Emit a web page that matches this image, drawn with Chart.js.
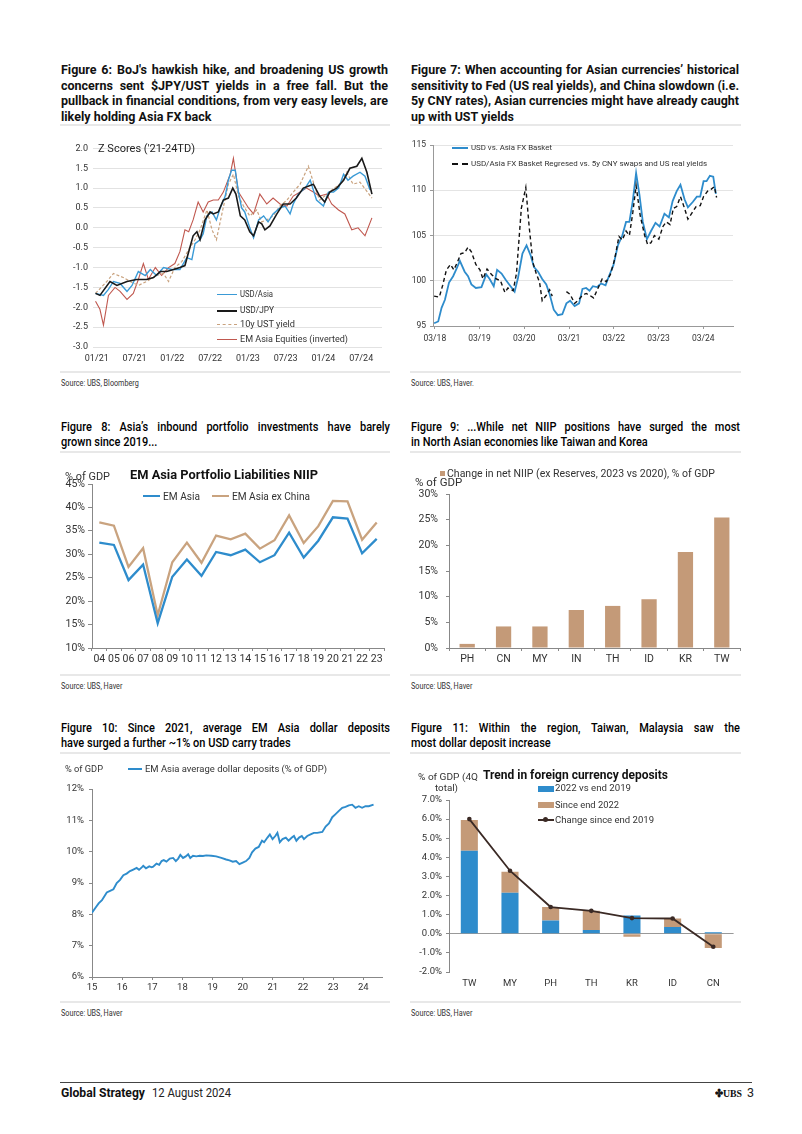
<!DOCTYPE html>
<html><head><meta charset="utf-8">
<script src="https://cdn.jsdelivr.net/npm/chart.js@4.4.1/dist/chart.umd.min.js"></script>
<style>
html,body{margin:0;padding:0;background:#fff;}
body{width:802px;height:1134px;position:relative;overflow:hidden;font-family:Roboto,'Open Sans',sans-serif;color:#222;}
.a{position:absolute;white-space:nowrap;}
.ttl{position:absolute;font-weight:700;font-size:12.5px;color:#111;}
.ttl .ln{height:15.5px;line-height:15.5px;white-space:nowrap;}
.ttl.c{font-weight:500;font-size:12.5px;color:#000;}
.ttl.c .ln{height:15px;line-height:15px;}
.rule{position:absolute;height:2px;background:#e8e8e8;}
.src{position:absolute;font-size:8.5px;line-height:10px;color:#333;white-space:nowrap;}
canvas{position:absolute;}
.sw{position:absolute;}
</style></head><body>

<!-- Titles -->
<div class="ttl" style="left:61px;top:62px;width:327px;" data-s="1">
<div class="ln j">Figure 6: BoJ's hawkish hike, and broadening US growth</div>
<div class="ln j">concerns sent $JPY/UST yields in a free fall. But the</div>
<div class="ln j">pullback in financial conditions, from very easy levels, are</div>
<div class="ln">likely holding Asia FX back</div>
</div>
<div class="ttl" style="left:411px;top:62px;width:328px;" data-s="1">
<div class="ln j">Figure 7: When accounting for Asian currencies’ historical</div>
<div class="ln j">sensitivity to Fed (US real yields), and China slowdown (i.e.</div>
<div class="ln j">5y CNY rates), Asian currencies might have already caught</div>
<div class="ln">up with UST yields</div>
</div>
<div class="rule" style="left:60px;top:124px;width:330px;"></div>
<div class="rule" style="left:410px;top:124px;width:331px;"></div>

<div class="ttl c" style="left:61px;top:419px;width:329px;" data-s="0.88">
<div class="ln j">Figure 8: Asia’s inbound portfolio investments have barely</div>
<div class="ln">grown since 2019...</div>
</div>
<div class="ttl c" style="left:411px;top:419px;width:329px;" data-s="0.88">
<div class="ln j">Figure 9: ...While net NIIP positions have surged the most</div>
<div class="ln">in North Asian economies like Taiwan and Korea</div>
</div>
<div class="rule" style="left:60px;top:451px;width:330px;"></div>
<div class="rule" style="left:410px;top:451px;width:331px;"></div>

<div class="ttl c" style="left:61px;top:720px;width:329px;" data-s="0.88">
<div class="ln j">Figure 10: Since 2021, average EM Asia dollar deposits</div>
<div class="ln">have surged a further ~1% on USD carry trades</div>
</div>
<div class="ttl c" style="left:411px;top:720px;width:329px;" data-s="0.88">
<div class="ln j">Figure 11: Within the region, Taiwan, Malaysia saw the</div>
<div class="ln">most dollar deposit increase</div>
</div>
<div class="rule" style="left:60px;top:752px;width:330px;"></div>
<div class="rule" style="left:410px;top:752px;width:331px;"></div>

<!-- source rules and texts -->
<div class="rule" style="left:60px;top:371px;width:330px;"></div>
<div class="rule" style="left:410px;top:371px;width:331px;"></div>
<div class="src" style="left:61px;top:378px;" data-sx="0.85">Source: UBS, Bloomberg</div>
<div class="src" style="left:411px;top:378px;" data-sx="0.85">Source: UBS, Haver.</div>
<div class="rule" style="left:60px;top:674px;width:330px;"></div>
<div class="rule" style="left:410px;top:674px;width:331px;"></div>
<div class="src" style="left:61px;top:681px;" data-sx="0.85">Source: UBS, Haver</div>
<div class="src" style="left:411px;top:681px;" data-sx="0.85">Source: UBS, Haver</div>
<div class="rule" style="left:60px;top:1001px;width:330px;"></div>
<div class="rule" style="left:410px;top:1001px;width:331px;"></div>
<div class="src" style="left:61px;top:1008px;" data-sx="0.85">Source: UBS, Haver</div>
<div class="src" style="left:411px;top:1008px;" data-sx="0.85">Source: UBS, Haver</div>

<!-- footer -->
<div style="position:absolute;left:60px;top:1082px;width:692px;height:1px;background:#444;"></div>
<div class="a" style="left:61px;top:1086px;font-size:12.5px;line-height:14px;font-weight:700;color:#111;" data-w="84">Global Strategy</div>
<div class="a" style="left:152px;top:1086px;font-size:12.5px;line-height:14px;color:#222;" data-w="79">12 August 2024</div>
<div class="a" style="left:715px;top:1086px;font-size:11px;line-height:14px;color:#111;font-family:'Liberation Serif',serif;font-weight:700;" data-w="27">✤UBS</div>
<div class="a" style="left:747px;top:1086px;font-size:12.5px;line-height:14px;color:#222;">3</div>

<!-- Chart 6 overlays -->
<div class="a" style="left:98px;top:141.5px;font-size:11px;line-height:13px;color:#222;" data-w="97">Z Scores ('21-24TD)</div>
<div class="sw" style="left:217px;top:293.5px;width:20px;border-top:1.5px solid #3a9ad6;"></div>
<div class="a" style="left:240px;top:288.5px;font-size:9px;line-height:11px;color:#333;" data-w="33">USD/Asia</div>
<div class="sw" style="left:217px;top:309.5px;width:20px;border-top:2px solid #1a1a1a;"></div>
<div class="a" style="left:240px;top:304.5px;font-size:9px;line-height:11px;color:#333;" data-w="34">USD/JPY</div>
<div class="sw" style="left:217px;top:324px;width:20px;border-top:1.2px dashed #c9a27e;"></div>
<div class="a" style="left:240px;top:319px;font-size:9px;line-height:11px;color:#333;" data-w="55">10y UST yield</div>
<div class="sw" style="left:217px;top:339px;width:20px;border-top:1px solid #c0584f;"></div>
<div class="a" style="left:240px;top:334px;font-size:9px;line-height:11px;color:#333;" data-w="108">EM Asia Equities (inverted)</div>

<!-- Chart 7 overlays -->
<div class="sw" style="left:452px;top:147px;width:16px;border-top:2px solid #2e8ccc;"></div>
<div class="a" style="left:471px;top:143px;font-size:8px;line-height:10px;color:#333;" data-w="81">USD vs. Asia FX Basket</div>
<div class="sw" style="left:452px;top:163px;width:16px;border-top:2px dashed #111;"></div>
<div class="a" style="left:471px;top:159px;font-size:8px;line-height:10px;color:#333;" data-w="236">USD/Asia FX Basket Regresed vs. 5y CNY swaps and US real yields</div>

<!-- Chart 8 overlays -->
<div class="a" style="left:65px;top:469.5px;font-size:10.5px;line-height:13px;color:#333;" data-w="45">% of GDP</div>
<div class="a" style="left:130px;top:466.5px;font-size:12.5px;line-height:15px;font-weight:700;color:#111;" data-w="188">EM Asia Portfolio Liabilities NIIP</div>
<div class="sw" style="left:143px;top:495px;width:17px;border-top:2.5px solid #2e8ccc;"></div>
<div class="a" style="left:163px;top:489.5px;font-size:10.5px;line-height:13px;color:#333;" data-w="37">EM Asia</div>
<div class="sw" style="left:212px;top:495px;width:17px;border-top:2.5px solid #c9a37f;"></div>
<div class="a" style="left:232px;top:489.5px;font-size:10.5px;line-height:13px;color:#333;" data-w="78">EM Asia ex China</div>

<!-- Chart 9 overlays -->
<div class="sw" style="left:440px;top:471px;width:5px;height:5px;background:#c49a78;"></div>
<div class="a" style="left:447px;top:466.5px;font-size:10.5px;line-height:13px;color:#333;" data-w="268">Change in net NIIP (ex Reserves, 2023 vs 2020), % of GDP</div>
<div class="a" style="left:415px;top:477px;font-size:10px;line-height:12px;color:#333;" data-w="50">% of GDP</div>

<!-- Chart 10 overlays -->
<div class="a" style="left:65px;top:763px;font-size:9.5px;line-height:12px;color:#333;" data-w="38">% of GDP</div>
<div class="sw" style="left:128px;top:768px;width:14px;border-top:2px solid #2e8ccc;"></div>
<div class="a" style="left:145px;top:763px;font-size:9.5px;line-height:12px;color:#333;" data-w="182">EM Asia average dollar deposits (% of GDP)</div>

<!-- Chart 11 overlays -->
<div class="a" style="left:418px;top:771px;font-size:9.5px;line-height:12px;color:#333;" data-w="60">% of GDP (4Q</div>
<div class="a" style="left:435px;top:782px;font-size:9.5px;line-height:12px;color:#333;" data-w="23">total)</div>
<div class="a" style="left:483px;top:766.5px;font-size:12.5px;line-height:15px;font-weight:700;color:#111;" data-w="185">Trend in foreign currency deposits</div>
<div class="sw" style="left:538px;top:785.5px;width:16px;height:6px;background:#2e8ccc;"></div>
<div class="a" style="left:555px;top:782px;font-size:9.5px;line-height:12px;color:#333;" data-w="76">2022 vs end 2019</div>
<div class="sw" style="left:538px;top:801.5px;width:16px;height:6px;background:#c49a78;"></div>
<div class="a" style="left:555px;top:798.5px;font-size:9.5px;line-height:12px;color:#333;" data-w="64">Since end 2022</div>
<div class="sw" style="left:538px;top:818.5px;width:16px;border-top:2px solid #3b2a25;"></div>
<div class="sw" style="left:543px;top:817px;width:5px;height:5px;border-radius:50%;background:#3b2a25;"></div>
<div class="a" style="left:555px;top:813.5px;font-size:9.5px;line-height:12px;color:#333;" data-w="99">Change since end 2019</div>

<script>
// ---------- DATA ----------
// Figure 6: [months since Jan-2021, z-score]
const ticks6 = ['01/21','07/21','01/22','07/22','01/23','07/23','01/24','07/24'];
const usdAsia6 = [[-0.2,-1.65],[1.06,-1.7],[1.85,-1.55],[2.65,-1.35],[3.7,-1.4],[4.8,-1.6],[5.6,-1.45],[6.6,-1.1],[7.7,-1.2],[8.5,-1.05],[9.5,-1.2],[10.6,-1.0],[11.9,-1.05],[13.2,-1.05],[14.3,-0.75],[15.1,-0.8],[15.6,-0.4],[16.4,-0.3],[16.9,-0.15],[17.5,0.3],[18.3,0.4],[19.0,0.2],[19.6,0.5],[20.4,0.8],[20.9,1.2],[21.4,1.45],[22.0,1.45],[22.5,0.9],[23.0,0.5],[23.5,0.4],[24.3,0.0],[24.9,-0.25],[25.7,0.2],[26.5,0.3],[27.2,0.15],[28.0,0.35],[29.1,0.5],[29.9,0.55],[30.7,0.35],[31.2,0.6],[32.0,0.85],[33.1,1.0],[33.9,1.2],[34.4,0.95],[34.9,0.7],[36.0,0.55],[36.8,0.9],[37.6,0.9],[38.4,1.0],[39.2,1.35],[39.9,1.2],[40.7,1.3],[41.8,1.4],[42.6,1.3],[43.4,0.95]];
const usdJpy6 = [[-0.2,-1.65],[0.5,-1.7],[2.1,-1.35],[3.2,-1.45],[4.8,-1.35],[6.3,-1.3],[7.9,-1.3],[9.0,-1.25],[10.1,-1.1],[11.1,-1.1],[12.2,-1.05],[13.2,-1.0],[14.0,-0.95],[14.6,-0.6],[15.3,-0.2],[15.9,-0.1],[16.4,-0.3],[17.2,0.2],[18.0,0.4],[18.5,0.35],[19.3,0.4],[20.1,0.7],[20.9,0.75],[21.6,1.0],[22.1,0.85],[22.8,0.3],[23.5,0.2],[24.3,-0.1],[24.9,-0.2],[25.7,0.15],[26.2,0.1],[26.7,-0.05],[27.5,0.05],[28.6,0.35],[29.6,0.6],[30.7,0.6],[31.7,0.75],[32.8,1.0],[34.4,1.1],[35.4,0.8],[36.2,0.65],[37.0,0.9],[38.1,1.0],[39.2,1.2],[40.2,1.5],[41.3,1.55],[42.1,1.75],[42.9,1.4],[43.7,0.85]];
const ust10y6 = [[-0.2,-1.65],[1.6,-1.35],[2.65,-1.15],[4.2,-1.25],[5.3,-1.35],[6.6,-1.45],[7.9,-1.35],[9.5,-1.2],[10.6,-1.15],[11.4,-1.35],[12.4,-1.0],[13.5,-0.85],[14.6,-0.55],[15.6,-0.3],[16.4,-0.05],[17.5,0.45],[18.3,-0.05],[19.0,-0.3],[19.8,0.3],[20.9,1.1],[21.7,1.35],[22.5,0.8],[23.3,0.55],[24.3,0.3],[25.4,0.45],[26.2,0.15],[27.0,0.2],[28.0,0.3],[29.1,0.55],[30.2,0.7],[31.2,0.9],[32.3,1.1],[33.6,1.55],[34.7,1.0],[35.4,0.7],[36.2,0.8],[37.3,0.95],[38.6,1.1],[39.7,1.4],[40.7,1.1],[41.8,1.15],[43.7,0.75]];
const emEquities6 = [[-0.2,-1.85],[0.5,-2.05],[1.06,-2.45],[1.85,-1.7],[2.9,-1.5],[3.7,-1.6],[4.8,-1.8],[5.8,-1.65],[6.6,-1.3],[7.4,-0.9],[8.2,-1.3],[9.3,-1.0],[10.3,-1.2],[11.4,-1.0],[12.4,-0.9],[13.2,-0.6],[14.0,-0.05],[14.6,-0.1],[15.3,0.2],[16.1,0.65],[16.9,0.4],[17.7,0.65],[18.5,0.7],[19.3,0.7],[20.1,0.9],[21.2,1.35],[21.7,1.75],[22.5,0.9],[23.3,0.7],[24.1,0.5],[24.9,0.35],[25.9,0.85],[27.0,0.6],[28.0,0.75],[29.1,0.6],[30.2,0.55],[31.2,0.8],[32.3,0.9],[33.3,1.0],[34.4,0.9],[35.4,0.8],[36.5,0.85],[37.3,0.6],[38.4,0.45],[39.4,0.35],[40.5,-0.05],[41.5,0.0],[42.6,-0.2],[43.7,0.25]];

// Figure 7: [months since Mar-2018, index]
const ticks7 = ['03/18','03/19','03/20','03/21','03/22','03/23','03/24'];
const usdAsiaBasket7 = [[-0.2,95.3],[0.9,95.5],[1.8,97.0],[2.7,97.9],[3.8,99.8],[4.9,100.5],[5.8,101.3],[6.7,102.2],[8.0,101.0],[8.9,100.5],[9.8,99.6],[11.0,99.2],[12.5,99.3],[13.8,100.7],[14.7,100.2],[15.8,99.4],[16.7,101.2],[17.9,100.8],[19.0,100.1],[20.1,99.5],[21.4,98.8],[22.3,100.3],[23.5,103.0],[24.6,103.9],[25.7,102.8],[26.6,101.5],[27.7,101.0],[28.8,100.2],[29.9,99.6],[30.8,98.5],[31.9,96.8],[33.0,96.2],[34.2,96.3],[35.3,97.5],[36.3,97.8],[37.5,97.2],[38.7,97.5],[39.6,99.1],[40.6,99.2],[41.5,98.9],[42.4,99.4],[43.5,99.3],[44.6,99.7],[45.8,99.5],[46.7,100.5],[47.9,101.7],[49.1,103.9],[50.3,105.0],[51.3,106.5],[52.2,106.5],[53.1,108.8],[54.0,111.9],[54.9,109.5],[55.8,106.5],[56.9,104.6],[58.0,105.5],[59.2,106.4],[60.3,106.0],[61.6,107.4],[62.8,107.0],[63.8,108.8],[64.9,109.9],[65.9,110.6],[67.0,109.0],[67.9,108.1],[69.2,108.7],[70.3,109.3],[71.2,109.3],[72.1,111.0],[72.9,111.0],[73.8,111.6],[74.7,111.5],[75.4,109.6]];
const regressed7 = [[-0.2,98.3],[1.2,98.2],[2.1,99.5],[3.1,101.2],[4.2,101.8],[5.1,101.2],[6.0,102.0],[7.0,103.0],[8.0,103.1],[8.9,103.7],[9.8,103.2],[11.0,101.8],[12.1,101.2],[12.9,100.2],[14.0,101.3],[15.2,100.7],[16.5,100.2],[17.6,100.0],[18.8,98.7],[19.6,99.2],[21.0,98.9],[21.9,100.8],[23.2,108.0],[24.4,110.3],[25.3,106.0],[26.3,102.0],[27.2,100.8],[28.1,99.8],[28.8,97.8],[29.9,98.4],[30.8,99.0],[31.5,98.3],[33.0,null],[35.3,98.8],[36.3,98.5],[37.5,97.5],[38.4,97.8],[39.6,98.4],[40.6,98.6],[41.5,98.4],[42.6,98.1],[43.8,99.2],[44.9,100.2],[46.0,99.9],[47.1,100.7],[48.2,102.3],[49.4,104.9],[50.3,104.5],[51.3,105.5],[52.2,105.0],[53.1,107.5],[54.0,110.5],[55.1,107.2],[56.3,105.0],[57.1,104.0],[58.0,104.2],[58.9,105.0],[60.1,104.6],[61.2,106.0],[62.1,106.5],[63.1,106.2],[64.0,108.0],[64.9,108.2],[65.9,109.3],[67.0,108.0],[67.9,106.8],[69.0,107.5],[70.1,108.2],[71.2,108.3],[72.1,109.3],[73.2,109.9],[74.1,110.1],[75.0,110.4],[75.6,109.2]];

// Figure 8
const years8 = ['04','05','06','07','08','09','10','11','12','13','14','15','16','17','18','19','20','21','22','23'];
const emAsia8 = [32.5,32.0,24.5,27.8,15.3,25.2,28.9,25.4,30.5,29.8,31.0,28.3,29.8,34.6,29.3,32.9,37.9,37.6,30.2,33.3];
const emAsiaExChina8 = [36.8,36.1,27.3,31.3,17.0,28.3,32.5,28.2,34.0,33.2,34.4,31.2,33.0,38.3,32.4,36.0,41.4,41.3,33.1,36.8];

// Figure 9
const cats9 = ['PH','CN','MY','IN','TH','ID','KR','TW'];
const niipChange9 = [0.8,4.2,4.2,7.4,8.2,9.5,18.7,25.4];

// Figure 10: [year (2-digit, fractional), % of GDP]
const ticks10 = ['15','16','17','18','19','20','21','22','23','24'];
const dollarDeposits10 = [[15.00,8.05],[15.11,8.2],[15.22,8.35],[15.33,8.45],[15.49,8.7],[15.60,8.75],[15.71,8.8],[15.82,9.0],[15.93,9.1],[16.04,9.25],[16.15,9.3],[16.26,9.38],[16.37,9.43],[16.48,9.48],[16.56,9.42],[16.65,9.5],[16.70,9.55],[16.79,9.47],[16.90,9.53],[16.98,9.5],[17.03,9.52],[17.14,9.62],[17.23,9.58],[17.31,9.7],[17.38,9.73],[17.47,9.68],[17.58,9.78],[17.69,9.8],[17.78,9.7],[17.86,9.78],[17.93,9.9],[18.02,9.8],[18.11,9.85],[18.19,9.92],[18.26,9.8],[18.35,9.87],[18.46,9.85],[18.57,9.87],[18.68,9.86],[18.79,9.88],[18.96,9.87],[19.12,9.85],[19.29,9.8],[19.45,9.75],[19.56,9.72],[19.67,9.68],[19.78,9.7],[19.89,9.6],[20.00,9.65],[20.11,9.7],[20.22,9.8],[20.31,9.98],[20.42,10.1],[20.53,10.15],[20.64,10.35],[20.71,10.3],[20.82,10.45],[20.90,10.55],[20.99,10.4],[21.08,10.5],[21.15,10.6],[21.23,10.3],[21.32,10.4],[21.43,10.45],[21.52,10.35],[21.63,10.45],[21.70,10.5],[21.78,10.35],[21.87,10.45],[21.96,10.5],[22.03,10.4],[22.14,10.5],[22.25,10.55],[22.36,10.6],[22.47,10.6],[22.64,10.63],[22.75,10.8],[22.86,10.9],[22.97,11.1],[23.08,11.2],[23.19,11.3],[23.30,11.4],[23.41,11.43],[23.52,11.48],[23.63,11.5],[23.74,11.4],[23.85,11.45],[23.96,11.4],[24.07,11.45],[24.18,11.45],[24.34,11.5]];

// Figure 11
const cats11 = ['TW','MY','PH','TH','KR','ID','CN'];
const dep2022vs2019 = [4.35,2.15,0.70,0.20,0.95,0.35,0.08];
const depSince2022 = [1.60,1.10,0.70,1.00,-0.15,0.45,-0.75];
const depChangeSince2019 = [6.0,3.3,1.4,1.2,0.82,0.8,-0.68];

// ---------- CHARTS ----------
Chart.defaults.font.family = "Roboto, 'Open Sans', sans-serif";
Chart.defaults.color = '#333';
Chart.defaults.animation = false;
Chart.defaults.plugins.legend.display = false;
Chart.defaults.plugins.tooltip.enabled = false;
Chart.defaults.elements.point.radius = 0;
Chart.defaults.elements.line.tension = 0;

function mk(L,T,W,H,area){
  const c=document.createElement('canvas');
  c.width=W;c.height=H;c.style.left=L+'px';c.style.top=T+'px';c.style.width=W+'px';c.style.height=H+'px';
  document.body.insertBefore(c, document.body.firstChild);
  return {ctx:c.getContext('2d'),pad:{left:0,top:area.t-T,right:L+W-area.r,bottom:0},yw:area.l-L,xh:T+H-area.b};
}
const xy = arr => arr.map(p=>({x:p[0],y:p[1]}));
const base = {responsive:false,devicePixelRatio:1,animation:false};

// Figure 6
(function(){
  const g=mk(60,138,330,230,{l:93,t:148,r:382,b:347});
  new Chart(g.ctx,{type:'line',data:{datasets:[
    {label:'USD/JPY',data:xy(usdJpy6),borderColor:'#1a1a1a',borderWidth:1.6,order:0},
    {label:'USD/Asia',data:xy(usdAsia6),borderColor:'#3a9ad6',borderWidth:1.4,order:1},
    {label:'10y UST yield',data:xy(ust10y6),borderColor:'#c9a27e',borderWidth:1.2,borderDash:[3,2],order:2},
    {label:'EM Asia Equities (inverted)',data:xy(emEquities6),borderColor:'#c0584f',borderWidth:1.1,order:3}
  ]},options:{...base,layout:{padding:g.pad},scales:{
    x:{type:'linear',min:-0.6,max:45.3,afterBuildTicks:s=>{s.ticks=ticks6.map((t,i)=>({value:i*6}));},
       ticks:{callback:v=>ticks6[Math.round(v/6)],font:{size:9},padding:6,maxRotation:0,autoSkip:false},
       grid:{display:false,drawTicks:false},border:{display:false},afterFit:s=>{s.height=g.xh;}},
    y:{min:-3,max:2,ticks:{stepSize:0.5,callback:v=>Number(v).toFixed(1),font:{size:9},padding:5},
       grid:{color:'#e2e2e2',drawTicks:false},border:{display:false},afterFit:s=>{s.width=g.yw;}}
  }}});
})();

// Figure 7
(function(){
  const g=mk(405,135,340,210,{l:433,t:145,r:733,b:326});
  new Chart(g.ctx,{type:'line',data:{datasets:[
    {label:'USD vs. Asia FX Basket',data:xy(usdAsiaBasket7),borderColor:'#2e8ccc',borderWidth:1.8,order:1},
    {label:'USD/Asia FX Basket Regresed vs. 5y CNY swaps and US real yields',data:xy(regressed7),borderColor:'#111',borderWidth:1.4,borderDash:[4,3],order:0,spanGaps:false}
  ]},options:{...base,layout:{padding:g.pad},scales:{
    x:{type:'linear',min:-0.5,max:80,afterBuildTicks:s=>{s.ticks=ticks7.map((t,i)=>({value:i*12}));},
       ticks:{callback:v=>ticks7[Math.round(v/12)],font:{size:8.5},padding:5,maxRotation:0,autoSkip:false},
       grid:{drawOnChartArea:false,tickLength:3,color:'#999'},border:{color:'#999'},afterFit:s=>{s.height=g.xh;}},
    y:{min:95,max:115,ticks:{stepSize:5,font:{size:8.5},padding:4},
       grid:{color:'#e4e4e4',tickColor:'#999',tickLength:3},border:{color:'#999'},afterFit:s=>{s.width=g.yw;}}
  }}});
})();

// Figure 8
(function(){
  const g=mk(60,465,330,205,{l:92,t:484,r:384,b:648});
  new Chart(g.ctx,{type:'line',data:{labels:years8,datasets:[
    {label:'EM Asia',data:emAsia8,borderColor:'#2e8ccc',borderWidth:2.3},
    {label:'EM Asia ex China',data:emAsiaExChina8,borderColor:'#c9a37f',borderWidth:2.3}
  ]},options:{...base,layout:{padding:g.pad},scales:{
    x:{offset:true,ticks:{font:{size:10.5},padding:2,maxRotation:0,autoSkip:false},
       grid:{offset:true,drawOnChartArea:false,tickLength:3,color:'#888'},border:{color:'#888'},afterFit:s=>{s.height=g.xh;}},
    y:{min:10,max:45,ticks:{stepSize:5,callback:v=>v+'%',font:{size:10.5},padding:3},
       grid:{drawOnChartArea:false,tickLength:4,color:'#888'},border:{color:'#888'},afterFit:s=>{s.width=g.yw;}}
  }}});
})();

// Figure 9
(function(){
  const g=mk(405,465,340,205,{l:449,t:494,r:740,b:648});
  new Chart(g.ctx,{type:'bar',data:{labels:cats9,datasets:[
    {label:'Change in net NIIP (ex Reserves, 2023 vs 2020), % of GDP',data:niipChange9,backgroundColor:'#c49a78',categoryPercentage:1,barPercentage:0.42}
  ]},options:{...base,layout:{padding:g.pad},scales:{
    x:{ticks:{font:{size:10.5},padding:2,maxRotation:0,autoSkip:false},
       grid:{offset:true,drawOnChartArea:false,tickLength:3,color:'#888'},border:{color:'#888'},afterFit:s=>{s.height=g.xh;}},
    y:{min:0,max:30,ticks:{stepSize:5,callback:v=>v+'%',font:{size:10.5},padding:8},
       grid:{drawOnChartArea:false,tickLength:3,color:'#888'},border:{color:'#888'},afterFit:s=>{s.width=g.yw;}}
  }}});
})();

// Figure 10
(function(){
  const g=mk(60,760,330,240,{l:92,t:789,r:382,b:977});
  new Chart(g.ctx,{type:'line',data:{datasets:[
    {label:'EM Asia average dollar deposits (% of GDP)',data:xy(dollarDeposits10),borderColor:'#2e8ccc',borderWidth:1.9}
  ]},options:{...base,layout:{padding:g.pad},scales:{
    x:{type:'linear',min:15,max:24.62,afterBuildTicks:s=>{s.ticks=ticks10.map(t=>({value:+t}));},
       ticks:{callback:v=>String(v),font:{size:9.5},padding:2,maxRotation:0,autoSkip:false},
       grid:{drawOnChartArea:false,tickLength:3,color:'#888'},border:{color:'#888'},afterFit:s=>{s.height=g.xh;}},
    y:{min:6,max:12,ticks:{stepSize:1,callback:v=>v+'%',font:{size:9.5},padding:5},
       grid:{drawOnChartArea:false,tickLength:3,color:'#888'},border:{color:'#888'},afterFit:s=>{s.width=g.yw;}}
  }}});
})();

// Figure 11
(function(){
  const g=mk(405,765,340,235,{l:449,t:800,r:733.6,b:972});
  new Chart(g.ctx,{type:'bar',data:{labels:cats11,datasets:[
    {type:'line',label:'Change since end 2019',data:depChangeSince2019,borderColor:'#3b2a25',backgroundColor:'#3b2a25',borderWidth:1.8,pointRadius:2.3,pointBackgroundColor:'#3b2a25',pointBorderWidth:0,stack:'ln',order:0},
    {label:'2022 vs end 2019',data:dep2022vs2019,backgroundColor:'#2e8ccc',stack:'a',categoryPercentage:1,barPercentage:0.42,order:1},
    {label:'Since end 2022',data:depSince2022,backgroundColor:'#c49a78',stack:'a',categoryPercentage:1,barPercentage:0.42,order:2}
  ]},options:{...base,layout:{padding:g.pad},scales:{
    x:{stacked:true,ticks:{font:{size:9.5},padding:6,maxRotation:0,autoSkip:false},
       grid:{display:false,drawTicks:false},border:{display:false},afterFit:s=>{s.height=g.xh;}},
    y:{stacked:true,min:-2,max:7,ticks:{stepSize:1,callback:v=>Number(v).toFixed(1)+'%',font:{size:9.5},padding:4},
       grid:{color:c=>(c.tick&&c.tick.value===0)?'#999':'rgba(0,0,0,0)',tickColor:'#888',tickLength:3},
       border:{color:'#888'},afterFit:s=>{s.width=g.yw;}}
  }}});
})();

// ---------- TEXT FITTING ----------
document.querySelectorAll('.ttl').forEach(b=>{
  const W=parseFloat(b.style.width);
  const maxS=parseFloat(b.dataset.s||'1');
  const lines=[...b.querySelectorAll('.ln')];
  const spans=lines.map(ln=>{const sp=document.createElement('span');sp.textContent=ln.textContent.trim();ln.textContent='';ln.appendChild(sp);sp.style.display='inline-block';sp.style.whiteSpace='pre';sp.style.transformOrigin='0 50%';return sp;});
  const ws=spans.map(sp=>sp.getBoundingClientRect().width);
  let s=maxS; ws.forEach(w=>{if(w*s>W) s=W/w;});
  spans.forEach((sp,i)=>{sp.style.transform='scaleX('+s+')';
    if(lines[i].classList.contains('j')){const n=(sp.textContent.match(/ /g)||[]).length; if(n) sp.style.wordSpacing=((W/s-ws[i])/n)+'px';}});
});
document.querySelectorAll('[data-w],[data-sx]').forEach(el=>{
  const sp=document.createElement('span');sp.textContent=el.textContent;el.textContent='';el.appendChild(sp);
  sp.style.display='inline-block';sp.style.transformOrigin='0 50%';
  const w=sp.getBoundingClientRect().width;
  const s=el.dataset.sx?parseFloat(el.dataset.sx):Math.min(1.15,parseFloat(el.dataset.w)/w);
  sp.style.transform='scaleX('+s+')';
});
</script>
</body></html>
